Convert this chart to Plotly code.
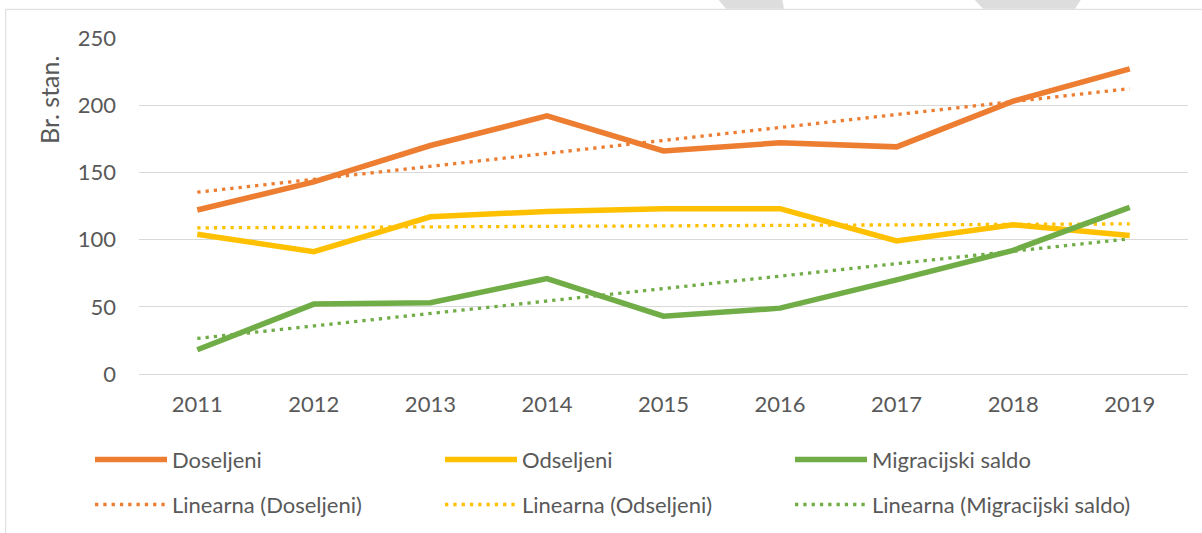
import numpy as np
import plotly.graph_objects as go

# ---------------- data ----------------
years = ["2011", "2012", "2013", "2014", "2015", "2016", "2017", "2018", "2019"]
doseljeni = [122, 143, 170, 192, 166, 172, 169, 203, 227]
odseljeni = [104, 91, 117, 121, 123, 123, 99, 111, 103]
migracijski_saldo = [18, 52, 53, 71, 43, 49, 70, 92, 124]
series_names = ["Doseljeni", "Odseljeni", "Migracijski saldo"]
trend_prefix = "Linearna"
y_ticks = [0, 50, 100, 150, 200, 250]
y_title = "Br. stan."

# ---------------- style ----------------
colors = ["#ED7D31", "#FFC000", "#70AD47"]
text_color = "#595959"
grid_color = "#D9D9D9"
font_family = "Lato, Carlito, 'Open Sans', sans-serif"
font_size = 22
main_w = 5.5
dot_w = 3.3
dot_dash = "3.3px,5px"

W, H = 1202, 533
L, R, T, B = 139, 14, 38, 159
pw = W - L - R
ph = H - T - B


def px(x):
    return (x - L) / pw


def py(y):
    return (H - B - y) / ph


series_values = [doseljeni, odseljeni, migracijski_saldo]

fig = go.Figure()
idx = np.arange(len(years))

for name, vals, col in zip(series_names, series_values, colors):
    slope, icpt = np.polyfit(idx, np.array(vals, dtype=float), 1)
    trend = slope * idx + icpt
    fig.add_trace(go.Scatter(
        x=years, y=trend, mode="lines", name=f"{trend_prefix} ({name})",
        line=dict(color=col, width=dot_w, dash=dot_dash), showlegend=False,
        hoverinfo="skip"))

for name, vals, col in zip(series_names, series_values, colors):
    fig.add_trace(go.Scatter(
        x=years, y=vals, mode="lines", name=name,
        line=dict(color=col, width=main_w), showlegend=False))

shapes = []
annotations = []

# chart frame (cut by image edges)
shapes.append(dict(type="rect", xref="paper", yref="paper",
                   x0=px(5.7), x1=px(1212), y0=py(545), y1=py(9.3),
                   line=dict(color=grid_color, width=1), layer="below"))


# grey decorative pieces above the frame
def path(pts):
    return "M " + " L ".join(f"{px(a):.5f},{py(b):.5f}" for a, b in pts) + " Z"


shapes.append(dict(type="path", xref="paper", yref="paper",
                   path=path([(717, -2), (782, -2), (784, 8.8), (726, 8.8)]),
                   fillcolor="#DDDDDD", line=dict(width=0), layer="below"))
shapes.append(dict(type="path", xref="paper", yref="paper",
                   path=path([(973, -2), (1082, -2), (1075, 8.8), (983, 8.8)]),
                   fillcolor="#DDDDDD", line=dict(width=0), layer="below"))

# custom legend
row1_y, row2_y = 459.5, 504.5
for i, (name, col) in enumerate(zip(series_names, colors)):
    x0 = 95 + 350 * i
    shapes.append(dict(type="line", xref="paper", yref="paper",
                       x0=px(x0), x1=px(x0 + 72), y0=py(row1_y), y1=py(row1_y),
                       line=dict(color=col, width=main_w)))
    shapes.append(dict(type="line", xref="paper", yref="paper",
                       x0=px(x0), x1=px(x0 + 72), y0=py(row2_y), y1=py(row2_y),
                       line=dict(color=col, width=dot_w, dash=dot_dash)))
    annotations.append(dict(xref="paper", yref="paper", x=px(x0 + 75), y=py(row1_y),
                            xanchor="left", yanchor="middle", showarrow=False,
                            text=name, font=dict(size=font_size, color=text_color)))
    annotations.append(dict(xref="paper", yref="paper", x=px(x0 + 75), y=py(row2_y),
                            xanchor="left", yanchor="middle", showarrow=False,
                            text=f"{trend_prefix} ({name})",
                            font=dict(size=font_size, color=text_color)))

# y axis title
annotations.append(dict(xref="paper", yref="paper", x=px(49), y=py(100),
                        xanchor="center", yanchor="middle", showarrow=False,
                        textangle=-90, text=y_title,
                        font=dict(size=25, color=text_color)))

fig.update_layout(
    width=W, height=H,
    margin=dict(l=L, r=R, t=T, b=B, autoexpand=False),
    paper_bgcolor="white", plot_bgcolor="white",
    font=dict(family=font_family, size=font_size, color=text_color),
    shapes=shapes, annotations=annotations,
    showlegend=False,
)
fig.update_xaxes(type="category", range=[-0.5, len(years) - 0.5], automargin=False,
                 showgrid=False, showline=False, zeroline=False,
                 ticks="", tickfont=dict(size=font_size, color=text_color),
                 ticklabelstandoff=15)
fig.update_yaxes(range=[0, 250], tickvals=y_ticks, automargin=False,
                 showgrid=True, gridcolor=grid_color,
                 gridwidth=1.3, zeroline=True, zerolinecolor=grid_color, zerolinewidth=1.3,
                 showline=False, ticks="", tickfont=dict(size=font_size, color=text_color),
                 ticklabelstandoff=22)

fig.write_html("out.html",
               config={"displayModeBar": False},
               post_script="document.body.style.margin='0';document.body.style.overflow='hidden';")
